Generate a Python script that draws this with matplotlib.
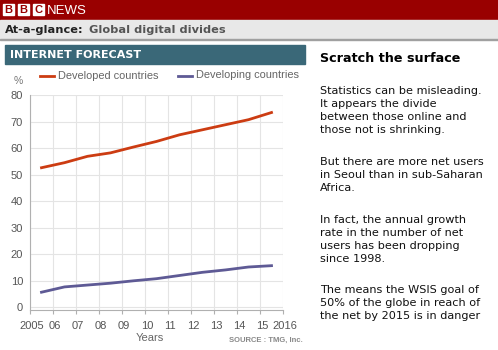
import matplotlib.pyplot as plt
import matplotlib.transforms as mtransforms
from matplotlib.patches import Rectangle

# data
years = [2005.5, 2006.5, 2007.5, 2008.5, 2009.5, 2010.5, 2011.5, 2012.5, 2013.5, 2014.5, 2015.5]
developed = [52.6, 54.5, 56.9, 58.2, 60.4, 62.5, 65.0, 66.9, 68.8, 70.7, 73.4]
developing = [5.7, 7.7, 8.4, 9.1, 10.0, 10.8, 12.0, 13.2, 14.1, 15.2, 15.7]
tick_years = list(range(2005, 2017))
tick_labels = ["2005", "06", "07", "08", "09", "10", "11", "12", "13", "14", "15", "2016"]
paragraphs = [
    "Statistics can be misleading.\nIt appears the divide\nbetween those online and\nthose not is shrinking.",
    "But there are more net users\nin Seoul than in sub-Saharan\nAfrica.",
    "In fact, the annual growth\nrate in the number of net\nusers has been dropping\nsince 1998.",
    "The means the WSIS goal of\n50% of the globe in reach of\nthe net by 2015 is in danger",
]
para_tops = [86, 157, 215, 285]

W, H = 498, 350
fig = plt.figure(figsize=(W / 100, H / 100), dpi=100)
fig.patch.set_facecolor("white")

# header bars
bg = fig.add_axes([0, 0, 1, 1])
bg.set_xlim(0, W)
bg.set_ylim(H, 0)
bg.axis("off")
bg.add_patch(Rectangle((0, 0), W, 20, color="#990000"))
bg.add_patch(Rectangle((0, 20), W, 19, color="#e8e8e8"))
bg.add_patch(Rectangle((0, 39), W, 1, color="#a0a0a0"))
for i, ch in enumerate("BBC"):
    bg.add_patch(Rectangle((3 + i * 15, 4), 11, 11, color="white"))
    bg.text(8.5 + i * 15, 10, ch, color="#990000", fontsize=8, fontweight="bold",
            ha="center", va="center", family="Liberation Sans")
bg.text(47, 10.5, "NEWS", color="white", fontsize=9.5, ha="left", va="center",
        family="Liberation Sans")
bg.text(5, 30, "At-a-glance:", color="#222222", fontsize=8.2, fontweight="bold",
        ha="left", va="center", family="DejaVu Sans")
bg.text(89, 30, "Global digital divides", color="#555555", fontsize=8.2, fontweight="bold",
        ha="left", va="center", family="DejaVu Sans")

# chart title box
bg.add_patch(Rectangle((5, 45), 300, 19, color="#3a6878"))
bg.text(10, 55, "INTERNET FORECAST", color="white", fontsize=8, fontweight="bold",
        ha="left", va="center", family="DejaVu Sans")

# legend
bg.plot([40, 54], [76, 76], color="#cc3c12", lw=2)
bg.text(58, 76, "Developed countries", color="#666666", fontsize=7.9, va="center",
        family="Liberation Sans")
bg.plot([178, 192], [76, 76], color="#5e5a95", lw=2)
bg.text(196, 75, "Developing countries", color="#666666", fontsize=7.9, va="center",
        family="Liberation Sans")
bg.text(18, 81, "%", color="#777777", fontsize=7.5, ha="center", va="center",
        family="Liberation Sans")
bg.text(150, 338, "Years", color="#666666", fontsize=8, ha="center", va="center",
        family="Liberation Sans")
bg.text(303, 340, "SOURCE : TMG, Inc.", color="#888888", fontsize=5.5, fontweight="bold",
        ha="right", va="center", family="Liberation Sans")

# right-hand text
bg.text(320, 58, "Scratch the surface", color="black", fontsize=9.2, fontweight="bold",
        ha="left", va="center", family="DejaVu Sans")
for txt, top in zip(paragraphs, para_tops):
    bg.text(320, top, txt, color="#111111", fontsize=8.1, ha="left", va="top",
            linespacing=1.36, family="DejaVu Sans")

# main chart
ax = fig.add_axes([30 / W, (H - 310) / H, 253 / W, (310 - 95) / H])
ax.plot(years, developed, color="#cc3c12", lw=2)
ax.plot(years, developing, color="#5e5a95", lw=2)
ax.set_xlim(2005, 2016)
ax.set_ylim(-1, 80)
ax.set_xticks(tick_years)
ax.set_xticklabels(tick_labels)
ax.set_yticks(range(0, 81, 10))
ax.grid(True, color="#e4e4e4", lw=0.8)
ax.set_axisbelow(True)
for s in ["top", "right"]:
    ax.spines[s].set_visible(False)
for s in ["left", "bottom"]:
    ax.spines[s].set_color("#b0b0b0")
ax.tick_params(axis="both", colors="#b0b0b0", labelcolor="#555555", labelsize=8)
ax.tick_params(axis="y", length=0, pad=5)
ax.tick_params(axis="x", length=3, pad=5)
shift = mtransforms.ScaledTranslation(2 / 100, 0, fig.dpi_scale_trans)
for lab in ax.get_xticklabels():
    lab.set_family("Liberation Sans")
    lab.set_transform(lab.get_transform() + shift)
for lab in ax.get_yticklabels():
    lab.set_family("Liberation Sans")

fig.savefig("out.png", dpi=100)
